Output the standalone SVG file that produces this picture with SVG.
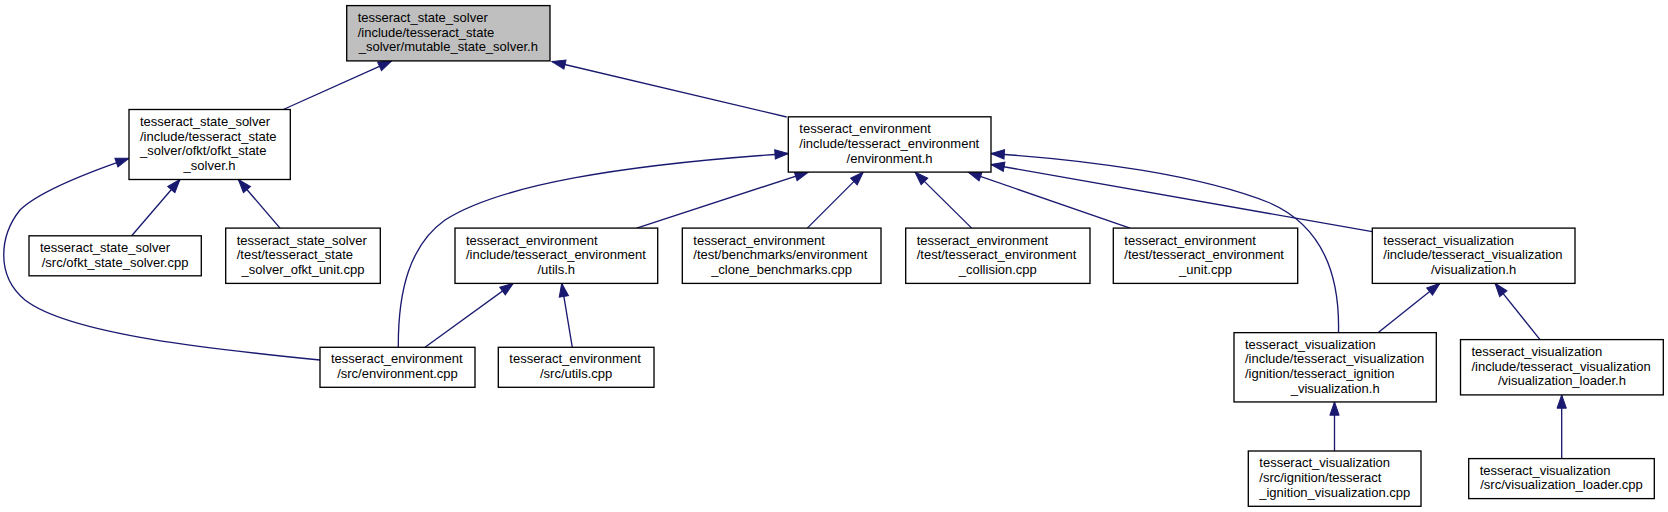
<svg xmlns="http://www.w3.org/2000/svg" width="1668" height="512" viewBox="0 0 1668 512">
<style>
.n rect{fill:#ffffff;stroke:#000000;stroke-width:1.33}
.n.root rect{fill:#bfbfbf}
.n text{font-family:"Liberation Sans",Arial,Helvetica,sans-serif;font-size:13px;fill:#000000}
.n text.c{text-anchor:middle}
.e path{fill:none;stroke:#191970;stroke-width:1.33;marker-end:url(#arr)}
</style>
<defs>
<marker id="arr" markerUnits="userSpaceOnUse" markerWidth="16" markerHeight="12" refX="13.3" refY="4.67" orient="auto" overflow="visible">
<path d="M0,0L13.3,4.67L0,9.33z" fill="#191970" stroke="#191970" stroke-width="1"/>
</marker>
</defs>
<rect width="1668" height="512" fill="#ffffff"/>
<g id="edges" class="e">
<path d="M283.3,109.5L391.7,60.9"/>
<path d="M786.7,117L552,61.5"/>
<path d="M131.7,235.8L180,179.5"/>
<path d="M280,228.1L238.3,179.5"/>
<path d="M320,360C220,350 70,335 25,300C-5,275 0,235 20,210C40,190 95,170 129,158.3"/>
<path d="M636.7,228.1L808.3,172.1"/>
<path d="M807.3,228.1L863.3,172.1"/>
<path d="M971.7,228.1L915,172.1"/>
<path d="M1130,228.1L968,172.1"/>
<path d="M1372.3,231.7L991,164.5"/>
<path d="M1338.5,332.7C1340,270 1320,225 1270,203C1200,175 1090,160 991,153.5"/>
<path d="M398.3,347.3C398,290 410,245 445,220C500,185 620,165 788.3,153.5"/>
<path d="M425,347.3L513.3,283.3"/>
<path d="M572.3,347.3L561.7,283.3"/>
<path d="M1378.3,332.6L1440,283.3"/>
<path d="M1540,339.6L1495,283.3"/>
<path d="M1334.5,451L1334.5,401.9"/>
<path d="M1561.7,458.6L1561.7,394.9"/>
</g>
<g id="node_root" class="n root">
<rect x="346.7" y="5.6" width="203.3" height="55.3"/>
<text x="357.7" y="22">tesseract_state_solver</text>
<text x="357.7" y="36.6">/include/tesseract_state</text>
<text class="c" x="448.3" y="51.3">_solver/mutable_state_solver.h</text>
</g>
<g id="node_ofkt_h" class="n">
<rect x="129" y="109.5" width="161.3" height="70"/>
<text x="140" y="125.8">tesseract_state_solver</text>
<text x="140" y="140.5">/include/tesseract_state</text>
<text x="140" y="155.2">_solver/ofkt/ofkt_state</text>
<text class="c" x="209.6" y="169.8">_solver.h</text>
</g>
<g id="node_env_h" class="n">
<rect x="788.3" y="116.8" width="202.7" height="55.3"/>
<text x="799.3" y="133.2">tesseract_environment</text>
<text x="799.3" y="147.8">/include/tesseract_environment</text>
<text class="c" x="889.6" y="162.5">/environment.h</text>
</g>
<g id="node_ofkt_cpp" class="n">
<rect x="29" y="235.8" width="172.3" height="40"/>
<text x="40" y="251.8">tesseract_state_solver</text>
<text class="c" x="115.1" y="266.5">/src/ofkt_state_solver.cpp</text>
</g>
<g id="node_ofkt_unit" class="n">
<rect x="225.7" y="228.1" width="154.6" height="55.3"/>
<text x="236.7" y="244.5">tesseract_state_solver</text>
<text x="236.7" y="259.1">/test/tesseract_state</text>
<text class="c" x="303" y="273.8">_solver_ofkt_unit.cpp</text>
</g>
<g id="node_utils_h" class="n">
<rect x="455" y="228.1" width="202.7" height="55.3"/>
<text x="466" y="244.5">tesseract_environment</text>
<text x="466" y="259.1">/include/tesseract_environment</text>
<text class="c" x="556.3" y="273.8">/utils.h</text>
</g>
<g id="node_clone" class="n">
<rect x="682.3" y="228.1" width="198.7" height="55.3"/>
<text x="693.3" y="244.5">tesseract_environment</text>
<text x="693.3" y="259.1">/test/benchmarks/environment</text>
<text class="c" x="781.6" y="273.8">_clone_benchmarks.cpp</text>
</g>
<g id="node_collision" class="n">
<rect x="905.7" y="228.1" width="184.3" height="55.3"/>
<text x="916.7" y="244.5">tesseract_environment</text>
<text x="916.7" y="259.1">/test/tesseract_environment</text>
<text class="c" x="997.8" y="273.8">_collision.cpp</text>
</g>
<g id="node_unit" class="n">
<rect x="1113.3" y="228.1" width="184.4" height="55.3"/>
<text x="1124.3" y="244.5">tesseract_environment</text>
<text x="1124.3" y="259.1">/test/tesseract_environment</text>
<text class="c" x="1205.5" y="273.8">_unit.cpp</text>
</g>
<g id="node_vis_h" class="n">
<rect x="1372.3" y="228.1" width="202.7" height="55.3"/>
<text x="1383.3" y="244.5">tesseract_visualization</text>
<text x="1383.3" y="259.1">/include/tesseract_visualization</text>
<text class="c" x="1473.6" y="273.8">/visualization.h</text>
</g>
<g id="node_env_cpp" class="n">
<rect x="320" y="347.3" width="155" height="40"/>
<text x="331" y="363.3">tesseract_environment</text>
<text class="c" x="397.5" y="378">/src/environment.cpp</text>
</g>
<g id="node_utils_cpp" class="n">
<rect x="498.3" y="347.3" width="155.7" height="40"/>
<text x="509.3" y="363.3">tesseract_environment</text>
<text class="c" x="576.1" y="378">/src/utils.cpp</text>
</g>
<g id="node_ign_h" class="n">
<rect x="1234" y="332.65" width="202.3" height="69.3"/>
<text x="1245" y="348.6">tesseract_visualization</text>
<text x="1245" y="363.3">/include/tesseract_visualization</text>
<text x="1245" y="378">/ignition/tesseract_ignition</text>
<text class="c" x="1335.2" y="392.6">_visualization.h</text>
</g>
<g id="node_loader_h" class="n">
<rect x="1460.5" y="339.6" width="202.8" height="55.3"/>
<text x="1471.5" y="356">tesseract_visualization</text>
<text x="1471.5" y="370.6">/include/tesseract_visualization</text>
<text class="c" x="1561.9" y="385.3">/visualization_loader.h</text>
</g>
<g id="node_ign_cpp" class="n">
<rect x="1248.3" y="451" width="172.7" height="55.3"/>
<text x="1259.3" y="467.3">tesseract_visualization</text>
<text x="1259.3" y="481.9">/src/ignition/tesseract</text>
<text class="c" x="1334.7" y="496.6">_ignition_visualization.cpp</text>
</g>
<g id="node_loader_cpp" class="n">
<rect x="1468.7" y="458.6" width="185.6" height="40"/>
<text x="1479.7" y="474.6">tesseract_visualization</text>
<text class="c" x="1561.5" y="489.3">/src/visualization_loader.cpp</text>
</g>
</svg>
